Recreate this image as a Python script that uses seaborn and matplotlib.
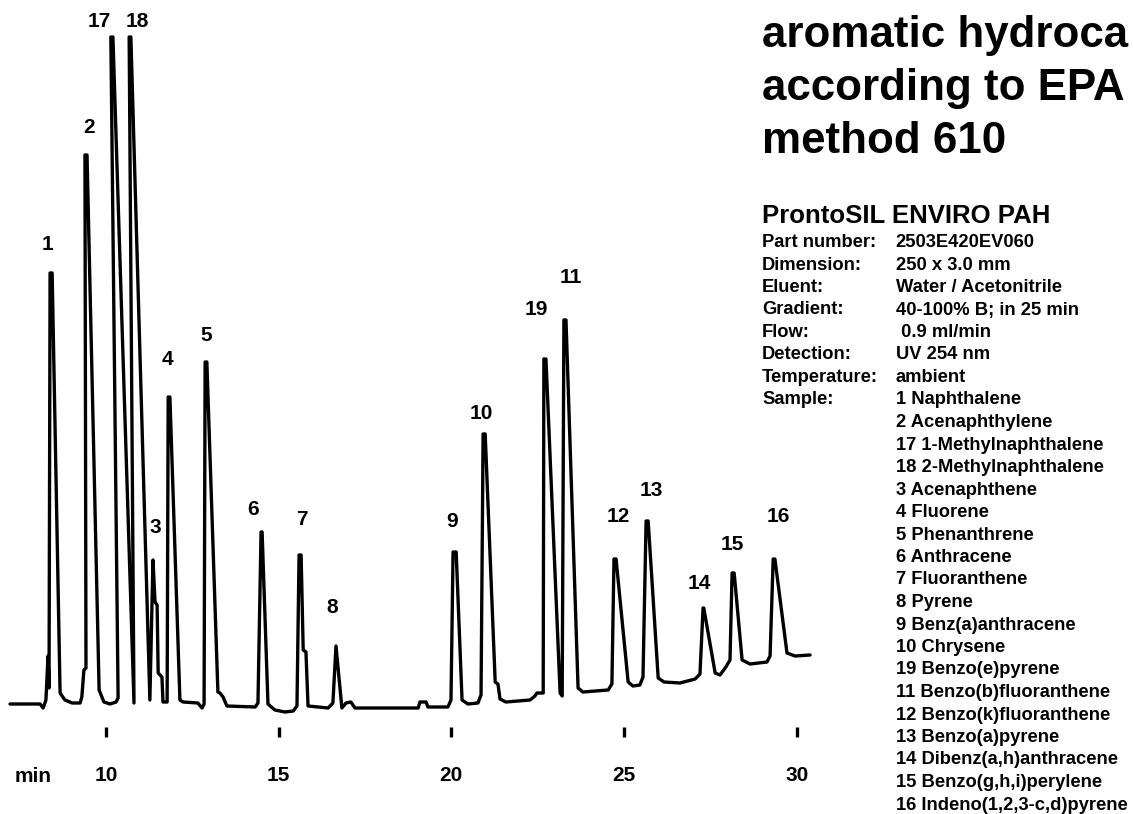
import matplotlib
matplotlib.use("Agg")
import matplotlib.pyplot as plt
import seaborn as sns
import pandas as pd

# ---------------- data ----------------
# chromatogram trace vertices: retention time (min) and detector signal (a.u.)
trace_time = [7.22, 8.09, 8.18, 8.26, 8.32, 8.35, 8.38, 8.44, 8.67, 8.81, 9.02, 9.25,
              9.30, 9.36, 9.42, 9.39, 9.45, 9.80, 9.94, 10.12, 10.29, 10.35,
              10.14, 10.20, 10.81, 10.67, 10.72, 11.27,
              11.36, 11.39, 11.42, 11.48, 11.51, 11.62, 11.65, 11.77,
              11.80, 11.85, 12.14, 12.23, 12.66, 12.78, 12.84,
              12.87, 12.92, 13.24, 13.30, 13.39, 13.50, 14.32, 14.40,
              14.49, 14.52, 14.69, 14.89, 15.18, 15.42, 15.53,
              15.59, 15.65, 15.71, 15.79, 15.85, 16.43, 16.57,
              16.66, 16.83, 16.95, 17.09, 17.21, 19.04, 19.09, 19.27, 19.32, 19.90, 19.99,
              20.05, 20.14, 20.31, 20.48, 20.77, 20.86,
              20.92, 20.98, 21.27, 21.35, 21.41, 21.58, 22.28, 22.42, 22.48, 22.66,
              22.68, 22.74, 23.15, 23.21,
              23.26, 23.32, 23.67, 23.81, 24.54, 24.65,
              24.71, 24.77, 25.12, 25.26, 25.46, 25.55,
              25.64, 25.70, 25.99, 26.16, 26.62, 27.06, 27.20,
              27.29, 27.31, 27.64, 27.78, 27.95, 28.07,
              28.13, 28.19, 28.42, 28.65, 29.14, 29.23,
              29.32, 29.37, 29.72, 29.95, 30.39]
trace_signal = [6, 6, 2, 10, 54, 22, 437, 437, 17, 10, 7, 7,
                13, 40, 42, 555, 555, 20, 8, 6, 8, 12,
                673, 673, 7, 673, 673, 10,
                150, 130, 108, 105, 37, 33, 8, 8,
                313, 313, 10, 8, 7, 2, 6,
                348, 348, 18, 17, 13, 4, 3, 7,
                178, 178, 6, 0, -2, -1, 4,
                155, 155, 60, 58, 4, 2, 7,
                64, 2, 7, 8, 2, 2, 8, 8, 3, 3, 10,
                158, 158, 10, 6, 7, 15,
                276, 276, 28, 26, 11, 8, 10, 14, 17, 17,
                351, 351, 17, 14,
                390, 390, 22, 18, 20, 26,
                151, 151, 28, 24, 25, 33,
                189, 189, 32, 28, 27, 31, 36,
                102, 102, 37, 35, 43, 50,
                137, 137, 50, 46, 48, 54,
                151, 151, 57, 54, 55]

# peak labels: number, label anchor (time, signal)
peak_ids = ["1", "2", "17", "18", "3", "4", "5", "6", "7", "8",
            "9", "10", "19", "11", "12", "13", "14", "15", "16"]
label_time = [8.32, 9.51, 9.79, 10.91, 11.42, 11.77, 12.90, 14.27, 15.68, 16.55,
              20.02, 20.86, 22.45, 23.47, 24.83, 25.78, 27.17, 28.13, 29.46]
label_signal = [460, 577, 683, 683, 177, 345, 369, 195, 185, 97,
                183, 291, 395, 427, 188, 214, 121, 160, 188]

tick_values = [10, 15, 20, 25, 30]
axis_unit = "min"

# title as visible in the reference (its first line is cut at the right edge)
title_lines = ["aromatic hydroca", "according to EPA", "method 610"]
column_name = "ProntoSIL ENVIRO PAH"
info_labels = ["Part number:", "Dimension:", "Eluent:", "Gradient:", "Flow:",
               "Detection:", "Temperature:", "Sample:"]
info_values = ["2503E420EV060", "250 x 3.0 mm", "Water / Acetonitrile",
               "40-100% B; in 25 min", " 0.9 ml/min", "UV 254 nm", "ambient"]
sample_list = ["1 Naphthalene", "2 Acenaphthylene", "17 1-Methylnaphthalene",
               "18 2-Methylnaphthalene", "3 Acenaphthene", "4 Fluorene",
               "5 Phenanthrene", "6 Anthracene", "7 Fluoranthene", "8 Pyrene",
               "9 Benz(a)anthracene", "10 Chrysene", "19 Benzo(e)pyrene",
               "11 Benzo(b)fluoranthene", "12 Benzo(k)fluoranthene",
               "13 Benzo(a)pyrene", "14 Dibenz(a,h)anthracene",
               "15 Benzo(g,h,i)perylene", "16 Indeno(1,2,3-c,d)pyrene"]

# ---------------- figure ----------------
sns.set_theme(style="white")
plt.rcParams["font.family"] = ["Liberation Sans", "DejaVu Sans"]
plt.rcParams["font.weight"] = "bold"
plt.rcParams["text.color"] = "black"
plt.rcParams["xtick.color"] = "black"
plt.rcParams["xtick.labelcolor"] = "black"

W, H = 1133, 814
fig = plt.figure(figsize=(W / 100, H / 100), dpi=100)
fig.patch.set_facecolor("white")
ax = fig.add_axes([0, 87 / H, 1, 727 / H])

df = pd.DataFrame({"time": trace_time, "signal": trace_signal})
sns.lineplot(data=df, x="time", y="signal", sort=False, estimator=None,
             color="black", linewidth=2.4, ax=ax)
for line in ax.lines:
    line.set_solid_joinstyle("round")

ax.set_xlim(6.93, 39.74)
ax.set_ylim(-17, 710)
for s in ax.spines.values():
    s.set_visible(False)
ax.set_facecolor("none")
ax.set_xlabel("")
ax.set_ylabel("")
ax.set_yticks([])
ax.set_xticks(tick_values)
ax.set_xticklabels([str(v) for v in tick_values])
ax.tick_params(axis="x", direction="out", length=7.2, width=2.4, color="black",
               labelcolor="black", pad=21, labelsize=15, bottom=True)
for lab in ax.get_xticklabels():
    lab.set_fontweight("bold")

for pid, lt, ls in zip(peak_ids, label_time, label_signal):
    ax.text(lt, ls, pid, ha="center", va="baseline", fontsize=15,
            fontweight="bold", color="black")

def px(x, y):
    return x / W, 1 - y / H

fig.text(*px(15, 782), axis_unit, ha="left", va="baseline", fontsize=15,
         fontweight="bold", color="black")

for i, t in enumerate(title_lines):
    fig.text(*px(762, 47 + 53 * i), t, ha="left", va="baseline", fontsize=31.6,
             fontweight="bold", color="black")

fig.text(*px(762, 223), column_name, ha="left", va="baseline", fontsize=18.5,
         fontweight="bold", color="black")

row0, step = 247, 22.5
for i, lab in enumerate(info_labels):
    fig.text(*px(762, row0 + step * i), lab, ha="left", va="baseline",
             fontsize=13.2, fontweight="bold", color="black")
for i, val in enumerate(info_values):
    fig.text(*px(895.5, row0 + step * i), val, ha="left", va="baseline",
             fontsize=13.2, fontweight="bold", color="black")
for j, smp in enumerate(sample_list):
    fig.text(*px(895.5, row0 + step * (len(info_values) + j)), smp, ha="left",
             va="baseline", fontsize=13.2, fontweight="bold", color="black")

fig.savefig("out.png", dpi=100, facecolor="white")
